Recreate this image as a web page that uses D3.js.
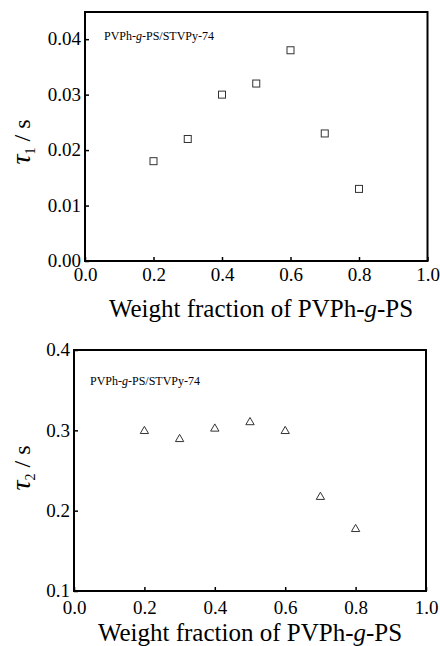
<!DOCTYPE html>
<html><head><meta charset="utf-8">
<script src="https://cdn.jsdelivr.net/npm/d3@7"></script>
<style>body{margin:0;background:#fff}svg{display:block}</style>
</head><body>
<script>
const fractions = [0.2, 0.3, 0.4, 0.5, 0.6, 0.7, 0.8];
const tau1 = [0.018, 0.022, 0.030, 0.032, 0.038, 0.023, 0.013];
const tau2 = [0.299, 0.289, 0.302, 0.310, 0.299, 0.217, 0.177];
const xTicks = [0.0, 0.2, 0.4, 0.6, 0.8, 1.0];
const y1Ticks = [0.00, 0.01, 0.02, 0.03, 0.04];
const y2Ticks = [0.1, 0.2, 0.3, 0.4];

const FONT = "'Liberation Serif', 'Times New Roman', Times, 'DejaVu Serif', serif";
const svg = d3.select("body").append("svg").attr("width", 440).attr("height", 646).attr("font-family", FONT);

function panel(o) {
  const x = d3.scaleLinear().domain([0, 1]).range([o.left, o.right]);
  const y = d3.scaleLinear().domain(o.ydom).range([o.bottom, o.top]);
  const g = svg.append("g");
  g.append("rect").attr("x", o.left).attr("y", o.top).attr("width", o.right - o.left).attr("height", o.bottom - o.top)
    .attr("fill", "none").attr("stroke", "#000").attr("stroke-width", 2);
  const xa = g.append("g").attr("transform", `translate(0,${o.bottom})`)
    .call(d3.axisBottom(x).tickValues(xTicks).tickFormat(d3.format(".1f")).tickSizeInner(-4).tickSizeOuter(0).tickPadding(o.xpad));
  xa.attr("font-family", FONT).attr("font-size", 19);
  xa.select(".domain").remove();
  xa.selectAll("line").attr("stroke-width", 1.5);
  xa.selectAll("text").attr("fill", "#000");
  const ya = g.append("g").attr("transform", `translate(${o.left},0)`)
    .call(d3.axisLeft(y).tickValues(o.yticks).tickFormat(d3.format(o.yfmt)).tickSizeInner(-4).tickSizeOuter(0).tickPadding(4));
  ya.attr("font-family", FONT).attr("font-size", 19);
  ya.select(".domain").remove();
  ya.selectAll("line").attr("stroke-width", 1.5);
  ya.selectAll("text").attr("fill", "#000").attr("dy", "0.3em");
  const an = g.append("text").attr("x", o.annX).attr("y", o.annY).attr("font-size", 12);
  an.append("tspan").text("PVPh-");
  an.append("tspan").attr("font-style", "italic").text("g");
  an.append("tspan").text("-PS/STVPy-74");
  const xl = g.append("text").attr("x", o.xlabX).attr("y", o.xlabY).attr("text-anchor", "middle").attr("font-size", 25);
  xl.append("tspan").text("Weight fraction of PVPh-");
  xl.append("tspan").attr("font-style", "italic").text("g");
  xl.append("tspan").text("-PS");
  const yl = g.append("text").attr("transform", `translate(${o.ylabX},${o.ylabY}) rotate(-90)`).attr("text-anchor", "middle").attr("font-size", 24);
  yl.append("tspan").attr("font-style", "italic").attr("font-size", 28).text("τ");
  yl.append("tspan").attr("font-size", 14).attr("dy", 5).text(o.sub);
  yl.append("tspan").attr("dy", -5).text(" / s");
  return {x, y, g};
}

const p1 = panel({left: 85, right: 427.5, top: 12, bottom: 261, ydom: [0, 0.0449], yticks: y1Ticks, yfmt: ".2f", xpad: 7,
  annX: 104, annY: 40, xlabX: 261, xlabY: 317, ylabX: 30, ylabY: 142, sub: "1"});
p1.g.selectAll("rect.pt").data(fractions).join("rect").attr("class", "pt")
  .attr("x", (d) => p1.x(d) - 3.5).attr("y", (d, i) => p1.y(tau1[i]) - 3.5).attr("width", 7).attr("height", 7)
  .attr("fill", "none").attr("stroke", "#333").attr("stroke-width", 1);

const p2 = panel({left: 74, right: 426, top: 350, bottom: 591, ydom: [0.1, 0.4], yticks: y2Ticks, yfmt: ".1f", xpad: 10,
  annX: 90, annY: 385, xlabX: 250, xlabY: 641, ylabX: 30, ylabY: 468, sub: "2"});
const tri = d3.symbol().type(d3.symbolTriangle).size(30);
p2.g.selectAll("path.pt").data(fractions).join("path").attr("class", "pt")
  .attr("transform", (d, i) => `translate(${p2.x(d)},${p2.y(tau2[i])})`).attr("d", tri)
  .attr("fill", "none").attr("stroke", "#333").attr("stroke-width", 1);
</script>
</body></html>
